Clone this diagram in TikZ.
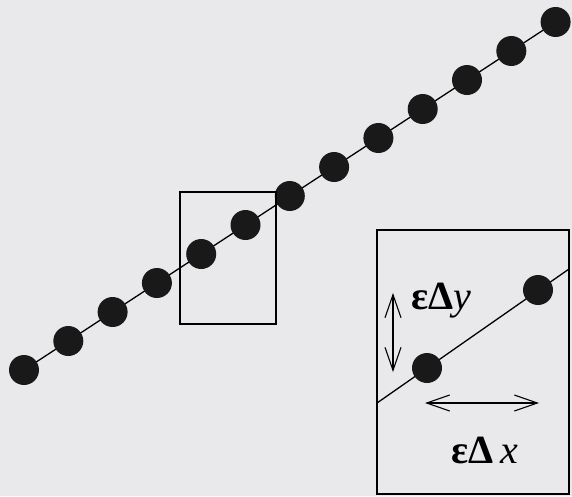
\documentclass[tikz,border=0pt]{standalone}
\usepackage{fontspec}
\setmainfont{Liberation Serif}
\usetikzlibrary{arrows.meta}

\definecolor{paper}{RGB}{233,233,235}

\begin{document}
\begin{tikzpicture}[x=1pt, y=-1pt, font=\fontsize{40}{42}\selectfont,
    bead/.style={circle, fill=black!90, inner sep=0pt, minimum size=30pt},
    frame/.style={line width=1.3pt},
    span/.style={{Straight Barb[length=23pt,width=16pt]}-{Straight Barb[length=23pt,width=16pt]}, line width=1.1pt}]
  \fill[paper] (0,0) rectangle (572,496);
  \useasboundingbox (0,0) rectangle (572,496);

  % chain of beads
  \foreach \i in {0,...,12}
    \coordinate (p\i) at ({24+44.3*\i},{370-29*\i});
  \draw[line width=1.3pt] (p0) -- (p12);
  \foreach \i in {0,...,12}
    \node[bead] (b\i) at (p\i) {};
  \draw[frame] (180,192) rectangle (276,324);

  % zoomed inset
  \draw[frame] (377,230) rectangle (569,494);
  \coordinate (il) at (377,403);
  \coordinate (ir) at (569,269);
  \draw[line width=1.3pt] (il) -- (ir);
  \node[bead] (e1) at (427,368) {};
  \node[bead] (e2) at (538,290) {};
  \coordinate (ut) at (393,293);
  \coordinate (ub) at (393,372);
  \draw[span] (ut) -- (ub);
  \coordinate (hl) at (425,403);
  \coordinate (hr) at (539,403);
  \draw[span] (hl) -- (hr);
  \node[anchor=base west, inner sep=0pt] (dy) at (411,309) {\textbf{εΔ}\textit{y}};
  \node[anchor=base west, inner sep=0pt] (dx) at (451,463) {\textbf{εΔ}\,\textit{x}};
\end{tikzpicture}
\end{document}
